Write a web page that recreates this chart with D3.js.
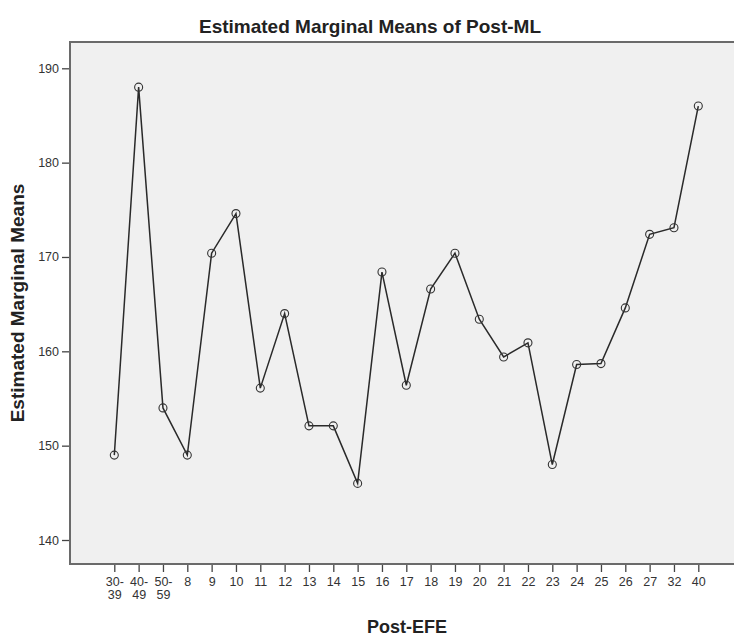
<!DOCTYPE html>
<html>
<head>
<meta charset="utf-8">
<script src="https://cdn.jsdelivr.net/npm/d3@7"></script>
<style>
  body { margin: 0; background: #fff; }
  text { font-family: "Liberation Sans", Arial, sans-serif; }
</style>
</head>
<body>
<div id="chart"></div>
<script>
var width = 734,
    height = 638;

// categories on the x axis (multi-line labels split with \n)
var categories = ["30-\n39", "40-\n49", "50-\n59", "8", "9", "10", "11", "12", "13", "14", "15",
                  "16", "17", "18", "19", "20", "21", "22", "23", "24", "25", "26", "27", "32", "40"];

// estimated marginal means
var means = [149, 188, 154, 149, 170.4, 174.6, 156.1, 164, 152.1, 152.1, 146,
             168.4, 156.4, 166.6, 170.4, 163.4, 159.4, 160.9, 148, 158.6, 158.7, 164.6, 172.4, 173.1, 186];

var yTicks = [140, 150, 160, 170, 180, 190];

var frame = {left: 70, top: 42, right: 734, bottom: 564};

var x = d3.scalePoint()
    .domain(categories)
    .range([114.3, 698.3]);

var y = d3.scaleLinear()
    .domain([140, 190])
    .range([540, 68.3]);

var svg = d3.select("#chart").append("svg")
    .attr("width", width)
    .attr("height", height);

// plot background
svg.append("rect")
    .attr("x", frame.left)
    .attr("y", frame.top)
    .attr("width", frame.right - frame.left)
    .attr("height", frame.bottom - frame.top)
    .attr("fill", "#f0f0f0");

/*
-----------------AXES-----------------
*/
var yAxis = svg.append("g")
    .attr("transform", "translate(" + frame.left + ",0)")
    .call(d3.axisLeft(y).tickValues(yTicks).tickSize(8).tickPadding(3));

var xAxis = svg.append("g")
    .attr("transform", "translate(0," + frame.bottom + ")")
    .call(d3.axisBottom(x).tickSize(8).tickPadding(5));

[yAxis, xAxis].forEach(function(ax) {
  ax.select(".domain").remove();
  ax.selectAll(".tick line").attr("stroke", "#444").attr("stroke-width", 1.3);
  ax.selectAll(".tick text")
    .attr("fill", "#333")
    .style("font-size", "12.5px");
});

// split the range labels in two lines
xAxis.selectAll(".tick text").each(function(d) {
  var parts = d.split("\n");
  var t = d3.select(this).text(null);
  parts.forEach(function(p, i) {
    t.append("tspan")
      .attr("x", 0)
      .attr("dy", i === 0 ? "0.71em" : "1.02em")
      .text(p);
  });
});

// frame lines: top, left, bottom
svg.append("path")
    .attr("d", "M" + frame.right + "," + frame.top + "H" + frame.left + "V" + frame.bottom + "H" + frame.right)
    .attr("fill", "none")
    .attr("stroke", "#6a6a6a")
    .attr("stroke-width", 2);

/*
-----------------LINE + MARKERS-----------------
*/
var line = d3.line()
    .x(function(d, i) { return x(categories[i]); })
    .y(function(d) { return y(d); });

svg.append("path")
    .datum(means)
    .attr("d", line)
    .attr("fill", "none")
    .attr("stroke", "#2a2a2a")
    .attr("stroke-width", 1.5);

svg.selectAll("circle.pt")
    .data(means)
  .enter().append("circle")
    .attr("class", "pt")
    .attr("cx", function(d, i) { return x(categories[i]); })
    .attr("cy", function(d) { return y(d); })
    .attr("r", 4)
    .attr("fill", "none")
    .attr("stroke", "#333")
    .attr("stroke-width", 1.1);

/*
-----------------TITLES-----------------
*/
svg.append("text")
    .attr("x", 370)
    .attr("y", 33)
    .attr("text-anchor", "middle")
    .style("font-size", "19px")
    .style("font-weight", "bold")
    .attr("fill", "#222")
    .text("Estimated Marginal Means of Post-ML");

svg.append("text")
    .attr("transform", "translate(24,303) rotate(-90)")
    .attr("text-anchor", "middle")
    .style("font-size", "19px")
    .style("font-weight", "bold")
    .attr("fill", "#222")
    .text("Estimated Marginal Means");

svg.append("text")
    .attr("x", 407)
    .attr("y", 633)
    .attr("text-anchor", "middle")
    .style("font-size", "18px")
    .style("font-weight", "bold")
    .attr("fill", "#222")
    .text("Post-EFE");
</script>
</body>
</html>
